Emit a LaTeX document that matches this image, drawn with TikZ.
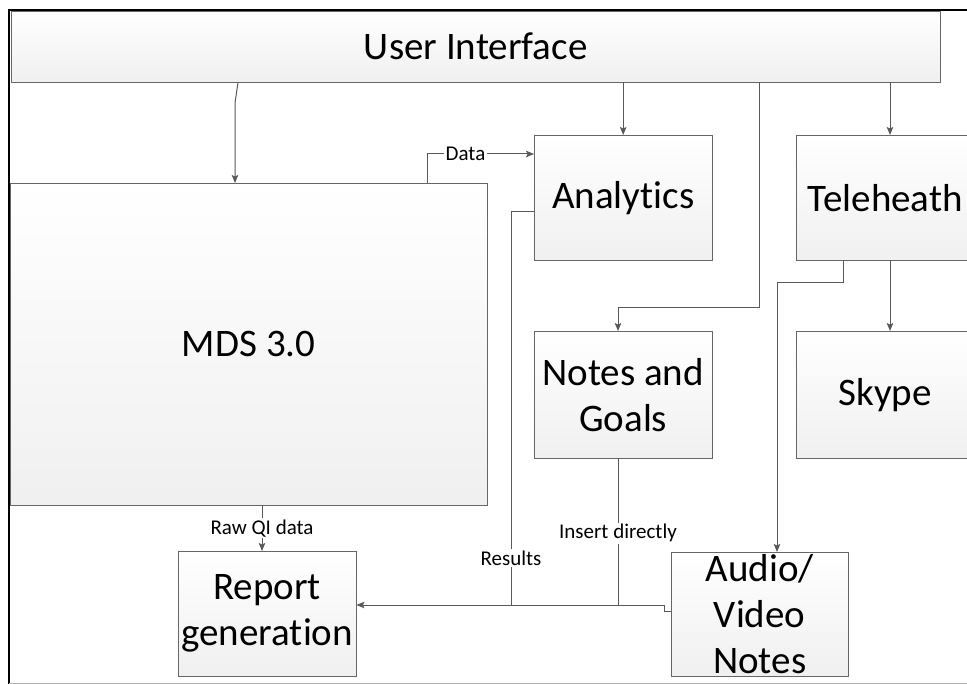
\documentclass[tikz,border=0pt]{standalone}
\usepackage{fontspec}
\setmainfont{Carlito}[Ligatures=NoCommon]
\usetikzlibrary{arrows.meta}

\begin{document}
\begin{tikzpicture}[x=1pt, y=-1pt,
  box/.style={draw=black!60, top color=white, bottom color=black!6, anchor=north west,
              inner sep=0pt, align=center, font=\fontsize{39}{46}\selectfont},
  arr/.style={-{Stealth[length=8pt, width=6.5pt, inset=1.5pt]}, draw=black!65, line width=1pt},
  wire/.style={draw=black!65, line width=1pt},
  lbl/.style={fill=white, inner sep=1.5pt, font=\fontsize{21}{24}\selectfont}
]
  \path[use as bounding box, clip] (0,0) rectangle (967,684);
  % frame of the screenshot
  \draw[line width=2pt] (9,684) -- (9,10) -- (967,10);
  \draw[black!30] (9,683) -- (967,683);

  \node[box, minimum width=929pt, minimum height=71pt] (ui) at (11,11) {User Interface};
  \node[box, minimum width=477pt, minimum height=322pt] (mds) at (10,183) {MDS 3.0};
  \node[box, minimum width=178pt, minimum height=125pt] (analytics) at (534,135) {Analytics};
  \node[box, minimum width=178pt, minimum height=125pt] (tele) at (796,135) {Teleheath};
  \node[box, minimum width=178pt, minimum height=127pt] (notes) at (534,331) {Notes and\\Goals};
  \node[box, minimum width=178pt, minimum height=127pt] (skype) at (796,331) {Skype};
  \node[box, minimum width=178pt, minimum height=125pt] (report) at (178,551) {Report\\generation};
  \node[box, minimum width=177pt, minimum height=124pt] (audio) at (671,552) {Audio/\\Video\\Notes};

  % bends
  \coordinate (k1) at (238,0);
  \coordinate (k2) at (235,103);
  \coordinate (tk) at (890,0);
  \coordinate (nx) at (618,0);
  \coordinate (n1) at (759,308);
  \coordinate (d) at (427,154);
  \coordinate (r1) at (511,212);
  \coordinate (j) at (511,605);
  \coordinate (a1) at (664,611);
  \coordinate (a2) at (664,605);
  \coordinate (t1) at (843,283);
  \coordinate (t2) at (777,283);
  \coordinate (q) at (262,0);

  \draw[arr] (ui.south -| k1) -- (k2) -- (mds.north -| k2);
  \draw[arr] (ui.south -| analytics) -- (analytics.north);
  \draw[arr] (ui.south -| tk) -- (tele.north -| tk);
  \draw[arr] (ui.south -| n1) -- (n1) -| (notes.north -| nx);
  \draw[arr] (mds.north -| d) -- (d) -- node[lbl, pos=0.36]{Data} (analytics.west |- d);
  \draw[wire] (analytics.west |- r1) -- (r1) -- node[lbl, pos=0.88]{Results} (j);
  \draw[wire] (notes.south -| nx) -- node[lbl, pos=0.51]{Insert directly} (nx |- j);
  \draw[arr] (audio.west |- a1) -- (a1) -- (a2) -- (report.east |- a2);
  \draw[arr] (tele.south -| t1) -- (t1) -- (t2) -- (audio.north -| t2);
  \draw[arr] (tele.south -| tk) -- (skype.north -| tk);
  \draw[arr] (mds.south -| q) -- node[lbl, pos=0.5]{Raw QI data} (report.north -| q);
\end{tikzpicture}
\end{document}
